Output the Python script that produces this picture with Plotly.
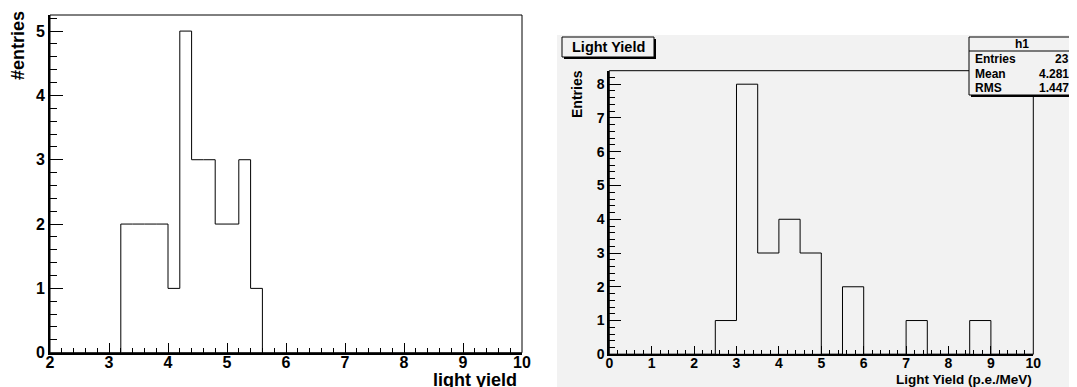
import plotly.graph_objects as go

W, H = 1077, 387
OFF = 8  # the page body adds an 8px margin around the figure

# left histogram (bin width 0.2)
left_lo = [3.2, 3.4, 3.6, 3.8, 4.0, 4.2, 4.4, 4.6, 4.8, 5.0, 5.2, 5.4]
left_counts = [2, 2, 2, 2, 1, 5, 3, 3, 2, 2, 3, 1]
left_width = 0.2

# right histogram "Light Yield" (bin width 0.5, 0..10)
right_lo = [0.0, 0.5, 1.0, 1.5, 2.0, 2.5, 3.0, 3.5, 4.0, 4.5,
            5.0, 5.5, 6.0, 6.5, 7.0, 7.5, 8.0, 8.5, 9.0, 9.5]
right_counts = [0, 0, 0, 0, 0, 1, 8, 3, 4, 3, 0, 2, 0, 0, 1, 0, 0, 1, 0, 0]
right_width = 0.5

stats_name = "h1"
stats_labels = ["Entries", "Mean", "RMS"]
stats_values = ["23", "4.281", "1.447"]

FONT = "Liberation Sans"
GRAY = "#f2f2f2"


def px(x):
    return (x - OFF) / W


def py(y):
    return 1 - (y - OFF) / H


def steps(lo, counts, width):
    xs = [lo[0]] + list(lo) + [lo[-1] + width]
    ys = [0] + list(counts) + [0]
    return xs, ys


fig = go.Figure()

lx, ly = steps(left_lo, left_counts, left_width)
fig.add_trace(go.Scatter(x=lx, y=ly, mode="lines", line_shape="hv",
                         line=dict(color="black", width=1),
                         xaxis="x", yaxis="y", hoverinfo="skip"))
rx, ry = steps(right_lo, right_counts, right_width)
fig.add_trace(go.Scatter(x=rx, y=ry, mode="lines", line_shape="hv",
                         line=dict(color="black", width=1),
                         xaxis="x2", yaxis="y2", hoverinfo="skip"))


def axis(domain, rng, anchor, ticklen, minorlen, size, standoff=0):
    return dict(domain=domain, range=rng, anchor=anchor, automargin=False,
                dtick=1, tick0=0, ticks="inside", ticklen=ticklen,
                tickwidth=1, tickcolor="black", ticklabelstandoff=standoff,
                minor=dict(dtick=0.2, ticks="inside", ticklen=minorlen,
                           tickcolor="black", tickwidth=1),
                showline=True, linewidth=2, linecolor="black",
                showgrid=False, zeroline=False, fixedrange=True,
                tickfont=dict(family=FONT, size=size, color="black",
                              weight="bold"))


fig.update_layout(
    width=W, height=H,
    margin=dict(l=0, r=0, t=0, b=0, pad=0, autoexpand=False),
    paper_bgcolor="white",
    plot_bgcolor="rgba(0,0,0,0)",
    showlegend=False,
    xaxis=axis([px(50), px(522)], [2, 10], "y", 10, 5, 16, -6),
    yaxis=axis([py(352.7), py(15)], [0, 5.25], "x", 13, 7, 16),
    xaxis2=axis([px(609.3), px(1033.3)], [0, 10], "y2", 8, 4, 14, -5),
    yaxis2=axis([py(354.3), py(70.7)], [0, 8.4], "x2", 12, 6, 14),
)

shapes = [
    # grey pad of the right canvas
    dict(type="rect", xref="paper", yref="paper", layer="below",
         x0=px(557), x1=1, y0=0, y1=py(35),
         fillcolor=GRAY, line=dict(width=0)),
    # frames
    dict(type="rect", xref="x domain", yref="y domain",
         x0=0, x1=1, y0=0, y1=1, line=dict(color="black", width=1)),
    dict(type="rect", xref="x2 domain", yref="y2 domain",
         x0=0, x1=1, y0=0, y1=1, line=dict(color="black", width=1)),
    # title box with shadow
    dict(type="rect", xref="paper", yref="paper",
         x0=px(564), x1=px(656), y0=py(59), y1=py(39),
         fillcolor="black", line=dict(width=0)),
    dict(type="rect", xref="paper", yref="paper",
         x0=px(562), x1=px(654), y0=py(57), y1=py(37),
         fillcolor=GRAY, line=dict(color="black", width=1)),
    # stats box with shadow
    dict(type="rect", xref="paper", yref="paper",
         x0=px(971), x1=px(1078), y0=py(97), y1=py(39),
         fillcolor="black", line=dict(width=0)),
    dict(type="rect", xref="paper", yref="paper",
         x0=px(969), x1=px(1075), y0=py(95), y1=py(37),
         fillcolor=GRAY, line=dict(color="black", width=1)),
    dict(type="line", xref="paper", yref="paper",
         x0=px(969), x1=px(1075), y0=py(51), y1=py(51),
         line=dict(color="black", width=1)),
]
fig.update_layout(shapes=shapes)


def note(text, x, y, size, xanchor="center", angle=0):
    fig.add_annotation(text=text, x=px(x), y=py(y), xref="paper", yref="paper",
                       xanchor=xanchor, yanchor="middle", showarrow=False,
                       textangle=angle,
                       font=dict(family=FONT, size=size, color="black",
                                 weight="bold"))


note("#entries", 18, 46, 18, angle=-90)
note("light yield", 519, 380, 18, xanchor="right")
note("Entries", 577, 94, 14, angle=-90)
note("Light Yield (p.e./MeV)", 1034, 379, 13.5, xanchor="right")
note("Light Yield", 608, 47, 14.5)
note(stats_name, 1022, 44, 12)
for i, (lab, val) in enumerate(zip(stats_labels, stats_values)):
    note(lab, 973, 59 + 14.5 * i, 12, xanchor="left")
    note(val, 1071, 59 + 14.5 * i, 12, xanchor="right")

fig.write_html("out.html")
